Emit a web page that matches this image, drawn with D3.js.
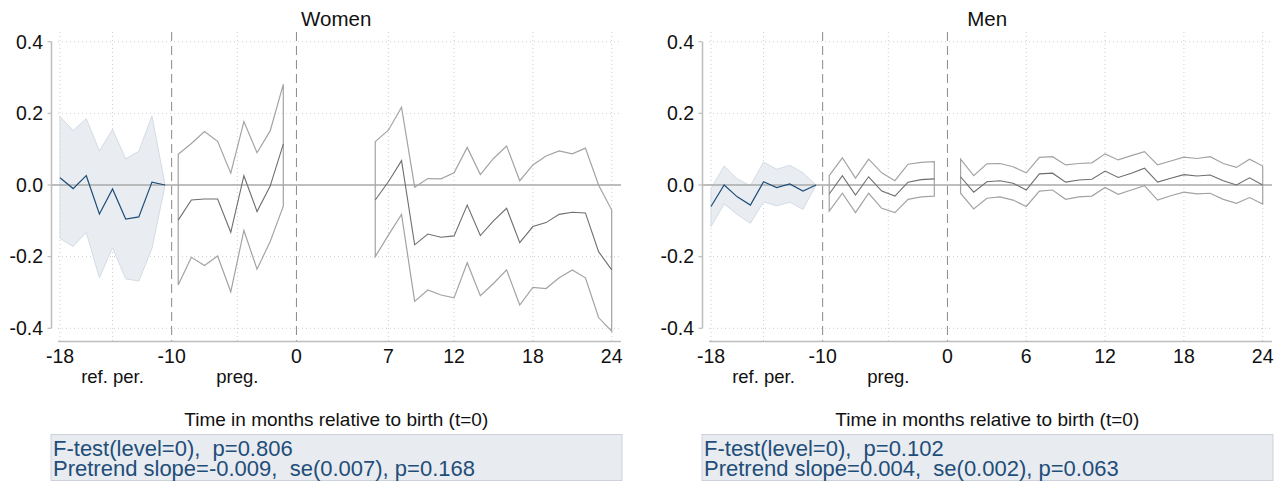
<!DOCTYPE html>
<html>
<head>
<meta charset="utf-8">
<script src="https://cdn.jsdelivr.net/npm/d3@7"></script>
<style>
  body { margin: 0; background: #fff; }
  svg text { font-family: "Liberation Sans", Arial, sans-serif; white-space: pre; }
</style>
</head>
<body>
<svg id="chart" width="1285" height="484"></svg>
<script>
// months
var refMonths  = [-18, -17, -16, -15, -14, -13, -12, -11, -10];
var pregMonths = [-9, -8, -7, -6, -5, -4, -3, -2, -1];
var womenPostMonths = [6, 7, 8, 9, 10, 11, 12, 13, 14, 15, 16, 17, 18, 19, 20, 21, 22, 23, 24];
var menPostMonths = [1, 2, 3, 4, 5, 6, 7, 8, 9, 10, 11, 12, 13, 14, 15, 16, 17, 18, 19, 20, 21, 22, 23, 24];

// women
var womenRefEst = [0.020, -0.010, 0.026, -0.081, -0.011, -0.095, -0.089, 0.008, 0.0];
var womenRefHi  = [0.191, 0.152, 0.185, 0.095, 0.155, 0.073, 0.094, 0.193, 0.0];
var womenRefLo  = [-0.149, -0.172, -0.132, -0.259, -0.175, -0.262, -0.268, -0.177, 0.0];
var womenPregEst = [-0.098, -0.042, -0.039, -0.039, -0.132, 0.026, -0.074, -0.003, 0.114];
var womenPregHi  = [0.086, 0.116, 0.149, 0.122, 0.033, 0.177, 0.090, 0.151, 0.281];
var womenPregLo  = [-0.279, -0.202, -0.225, -0.198, -0.298, -0.127, -0.235, -0.158, -0.059];
var womenPostEst = [-0.042, 0.009, 0.068, -0.167, -0.137, -0.146, -0.142, -0.056, -0.141, -0.100, -0.065, -0.161, -0.116, -0.105, -0.082, -0.076, -0.078, -0.186, -0.237];
var womenPostHi  = [0.121, 0.153, 0.217, -0.006, 0.018, 0.017, 0.034, 0.105, 0.029, 0.074, 0.109, 0.012, 0.056, 0.081, 0.095, 0.087, 0.103, 0.0, -0.070];
var womenPostLo  = [-0.200, -0.140, -0.082, -0.325, -0.293, -0.307, -0.315, -0.217, -0.309, -0.275, -0.237, -0.335, -0.286, -0.289, -0.259, -0.237, -0.259, -0.370, -0.408];

// men
var menRefEst = [-0.060, 0.0, -0.033, -0.056, 0.009, -0.007, 0.003, -0.017, 0.0];
var menRefHi  = [-0.010, 0.053, 0.017, -0.002, 0.064, 0.044, 0.055, 0.034, 0.0];
var menRefLo  = [-0.116, -0.053, -0.082, -0.107, -0.047, -0.058, -0.048, -0.068, 0.0];
var menPregEst = [-0.025, 0.026, -0.028, 0.023, -0.017, -0.031, 0.008, 0.015, 0.017];
var menPregHi  = [0.026, 0.076, 0.019, 0.072, 0.034, 0.012, 0.058, 0.063, 0.065];
var menPregLo  = [-0.073, -0.023, -0.077, -0.023, -0.065, -0.077, -0.040, -0.033, -0.031];
var menPostEst = [0.023, -0.020, 0.009, 0.012, 0.005, -0.014, 0.031, 0.033, 0.008, 0.014, 0.016, 0.039, 0.021, 0.033, 0.047, 0.008, 0.019, 0.029, 0.025, 0.028, 0.012, 0.0, 0.020, 0.0];
var menPostHi  = [0.072, 0.026, 0.059, 0.060, 0.051, 0.034, 0.077, 0.079, 0.056, 0.060, 0.062, 0.087, 0.070, 0.082, 0.093, 0.056, 0.067, 0.078, 0.074, 0.079, 0.060, 0.049, 0.072, 0.053];
var menPostLo  = [-0.023, -0.067, -0.037, -0.033, -0.042, -0.060, -0.017, -0.014, -0.040, -0.033, -0.031, -0.007, -0.026, -0.014, -0.002, -0.042, -0.030, -0.020, -0.025, -0.023, -0.040, -0.051, -0.035, -0.053];

var yTicks = [0.4, 0.2, 0.0, -0.2, -0.4];
var yTickLabels = ["0.4", "0.2", "0.0", "-0.2", "-0.4"];
var womenXTicks = [-18, -9.5, 0, 7, 12, 18, 24];
var womenXLabels = ["-18", "-10", "0", "7", "12", "18", "24"];
var menXTicks = [-18, -9.5, 0, 6, 12, 18, 24];
var menXLabels = ["-18", "-10", "0", "6", "12", "18", "24"];
var periodTicks = [-14, -4.5];
var periodLabels = ["ref. per.", "preg."];
var dashedAt = [-9.5, 0];

var panels = [
  { title: "Women", ox: 0, xTicks: womenXTicks, xLabels: womenXLabels,
    ref: [womenRefEst, womenRefHi, womenRefLo], preg: [womenPregEst, womenPregHi, womenPregLo],
    postMonths: womenPostMonths, post: [womenPostEst, womenPostHi, womenPostLo],
    note: ["F-test(level=0),  p=0.806", "Pretrend slope=-0.009,  se(0.007), p=0.168"] },
  { title: "Men", ox: 651, xTicks: menXTicks, xLabels: menXLabels,
    ref: [menRefEst, menRefHi, menRefLo], preg: [menPregEst, menPregHi, menPregLo],
    postMonths: menPostMonths, post: [menPostEst, menPostHi, menPostLo],
    note: ["F-test(level=0),  p=0.102", "Pretrend slope=0.004,  se(0.002), p=0.063"] }
];

var svg = d3.select('#chart');
var y = d3.scaleLinear().domain([-0.4, 0.4]).range([328.3, 41.7]);
var blue = '#1f4e79';

panels.forEach(function(p) {
  var ox = p.ox;
  var x = d3.scaleLinear().domain([-18, 24]).range([60 + ox, 611.7 + ox]);
  var g = svg.append('g');
  var left = 51.5 + ox, right = 621 + ox, top = 32, bottom = 341.5;

  // title
  g.append('text')
    .attr('x', (left + right) / 2)
    .attr('y', 26)
    .attr('text-anchor', 'middle')
    .style('font-size', '20.5px')
    .attr('fill', '#111')
    .text(p.title);

  // grid
  yTicks.forEach(function(t) {
    if (t === 0) return;
    g.append('line')
      .attr('x1', 58 + ox).attr('x2', right)
      .attr('y1', y(t)).attr('y2', y(t))
      .attr('stroke', '#cfcfcf').attr('stroke-width', 1)
      .attr('stroke-dasharray', '1,3');
  });
  p.xTicks.concat(periodTicks).forEach(function(t) {
    if (dashedAt.indexOf(t) >= 0) return;
    g.append('line')
      .attr('x1', x(t)).attr('x2', x(t))
      .attr('y1', top).attr('y2', bottom)
      .attr('stroke', '#cfcfcf').attr('stroke-width', 1)
      .attr('stroke-dasharray', '1,3');
  });
  dashedAt.forEach(function(t) {
    g.append('line')
      .attr('x1', x(t)).attr('x2', x(t))
      .attr('y1', top).attr('y2', bottom)
      .attr('stroke', '#8a8a8a').attr('stroke-width', 1)
      .attr('stroke-dasharray', '9,5');
  });

  // reference period band
  var refData = refMonths.map(function(m, i) { return { m: m, est: p.ref[0][i], hi: p.ref[1][i], lo: p.ref[2][i] }; });
  g.append('path')
    .attr('d', d3.area().x(function(d) { return x(d.m); }).y0(function(d) { return y(d.lo); }).y1(function(d) { return y(d.hi); })(refData))
    .attr('fill', '#e9edf2')
    .attr('stroke', '#d3dbe5')
    .attr('stroke-width', 1);

  // zero line
  g.append('line')
    .attr('x1', left).attr('x2', right)
    .attr('y1', y(0)).attr('y2', y(0))
    .attr('stroke', '#a9a9a9').attr('stroke-width', 1.5);

  g.append('path')
    .attr('d', d3.line().x(function(d) { return x(d.m); }).y(function(d) { return y(d.est); })(refData))
    .attr('fill', 'none')
    .attr('stroke', blue)
    .attr('stroke-width', 1.2);

  // outlined CI for pregnancy and post birth
  function outline(months, est, hi, lo) {
    var pts = months.map(function(m, i) { return [x(m), y(hi[i])]; });
    for (var i = months.length - 1; i >= 0; i--) pts.push([x(months[i]), y(lo[i])]);
    g.append('path')
      .attr('d', d3.line()(pts) + 'Z')
      .attr('fill', 'none')
      .attr('stroke', '#a3a3a3')
      .attr('stroke-width', 1.2);
    g.append('path')
      .attr('d', d3.line()(months.map(function(m, i) { return [x(m), y(est[i])]; })))
      .attr('fill', 'none')
      .attr('stroke', '#6e6e6e')
      .attr('stroke-width', 1.1);
  }
  outline(pregMonths, p.preg[0], p.preg[1], p.preg[2]);
  outline(p.postMonths, p.post[0], p.post[1], p.post[2]);

  // y axis
  g.append('line')
    .attr('x1', left).attr('x2', left)
    .attr('y1', y(0.4)).attr('y2', y(-0.4))
    .attr('stroke', '#bdbdbd').attr('stroke-width', 1.5);
  yTicks.forEach(function(t, i) {
    g.append('line')
      .attr('x1', left - 4).attr('x2', left)
      .attr('y1', y(t)).attr('y2', y(t))
      .attr('stroke', '#bdbdbd').attr('stroke-width', 1.2);
    g.append('text')
      .attr('x', 43 + ox)
      .attr('y', y(t) + 6.8)
      .attr('text-anchor', 'end')
      .style('font-size', '19.5px')
      .attr('fill', '#111')
      .text(yTickLabels[i]);
  });

  // x axis
  g.append('line')
    .attr('x1', 58 + ox).attr('x2', right)
    .attr('y1', bottom).attr('y2', bottom)
    .attr('stroke', '#bdbdbd').attr('stroke-width', 1.5);
  p.xTicks.forEach(function(t, i) {
    g.append('text')
      .attr('x', x(t))
      .attr('y', 363)
      .attr('text-anchor', 'middle')
      .style('font-size', '19.5px')
      .attr('fill', '#111')
      .text(p.xLabels[i]);
  });
  periodTicks.forEach(function(t, i) {
    g.append('text')
      .attr('x', x(t))
      .attr('y', 383)
      .attr('text-anchor', 'middle')
      .style('font-size', '18.5px')
      .attr('fill', '#111')
      .text(periodLabels[i]);
  });
  g.append('text')
    .attr('x', (left + right) / 2)
    .attr('y', 426)
    .attr('text-anchor', 'middle')
    .style('font-size', '19px')
    .attr('fill', '#111')
    .text('Time in months relative to birth (t=0)');

  // note box
  g.append('rect')
    .attr('x', 51 + ox).attr('y', 434.5)
    .attr('width', 571).attr('height', 46)
    .attr('fill', '#e8ebf0')
    .attr('stroke', '#cdd2da').attr('stroke-width', 1);
  p.note.forEach(function(s, i) {
    g.append('text')
      .attr('x', 53 + ox)
      .attr('y', 456 + i * 19.5)
      .style('font-size', '22px')
      .attr('fill', '#1f4e79')
      .text(s);
  });
});
</script>
</body>
</html>
